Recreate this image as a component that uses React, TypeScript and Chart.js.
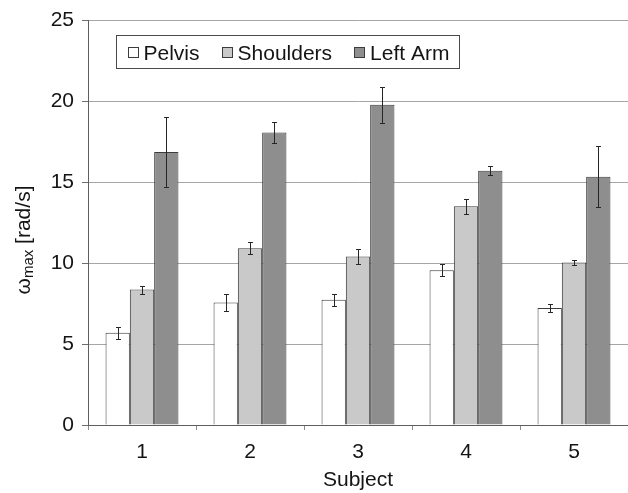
import React, { useEffect, useRef } from "react";
import { Chart, registerables } from "chart.js";

Chart.register(...registerables);

const subjects = ["1", "2", "3", "4", "5"];
const pelvis = [5.7, 7.57, 7.74, 9.57, 7.24];
const pelvisErr = [0.38, 0.5, 0.36, 0.37, 0.27];
const shoulders = [8.37, 10.93, 10.41, 13.52, 10.04];
const shouldersErr = [0.25, 0.37, 0.46, 0.45, 0.16];
const leftArm = [16.87, 18.09, 19.8, 15.72, 15.35];
const leftArmErr = [2.18, 0.67, 1.1, 0.28, 1.87];
const seriesNames = ["Pelvis", "Shoulders", "Left Arm"];
const yMin = 0;
const yMax = 25;
const yStep = 5;
const xTitle = "Subject";

const FONT = '"Liberation Sans", Arial, Helvetica, sans-serif';
const fills = ["#ffffff", "#c9c9c9", "#8e8e8e"];
const edge = "#3c3c3c";
const textColor = "#141414";
const errs = [pelvisErr, shouldersErr, leftArmErr];

const errorBarPlugin = {
  id: "errorBars",
  afterDatasetsDraw(chart: any) {
    const ctx = chart.ctx;
    const ys = chart.scales.y;
    ctx.save();
    ctx.strokeStyle = "#262626";
    ctx.lineWidth = 1;
    chart.data.datasets.forEach((ds: any, i: number) => {
      const meta = chart.getDatasetMeta(i);
      meta.data.forEach((el: any, j: number) => {
        const v = ds.data[j];
        const e = errs[i][j];
        const x = Math.round(el.x) + 0.5;
        const yt = Math.round(ys.getPixelForValue(v + e)) + 0.5;
        const yb = Math.round(ys.getPixelForValue(v - e)) + 0.5;
        ctx.beginPath();
        ctx.moveTo(x, yt);
        ctx.lineTo(x, yb);
        ctx.moveTo(x - 2.5, yt);
        ctx.lineTo(x + 2.5, yt);
        ctx.moveTo(x - 2.5, yb);
        ctx.lineTo(x + 2.5, yb);
        ctx.stroke();
      });
    });
    ctx.restore();
  },
};

const legendTitlePlugin = {
  id: "legendTitle",
  afterDraw(chart: any) {
    const ctx = chart.ctx;
    const ca = chart.chartArea;
    ctx.save();
    ctx.font = `21px ${FONT}`;
    const padL = 11, sq = 11, gapT = 5, gapI = 22, padR = 10;
    const widths = seriesNames.map((n) => ctx.measureText(n).width);
    let total = padL + padR;
    widths.forEach((w, i) => {
      total += sq + gapT + w + (i < widths.length - 1 ? gapI : 0);
    });
    const bx = Math.round(ca.left + 28) + 0.5;
    const by = Math.round(ca.top + 14) + 0.5;
    const bh = 33;
    ctx.fillStyle = "#ffffff";
    ctx.fillRect(bx, by, total, bh);
    ctx.strokeStyle = "#4a4a4a";
    ctx.lineWidth = 1;
    ctx.strokeRect(bx, by, Math.round(total), bh);
    let x = bx + padL;
    const cy = by + bh / 2;
    seriesNames.forEach((n, i) => {
      ctx.fillStyle = fills[i];
      ctx.fillRect(Math.round(x) + 0.5, Math.round(cy - 5.5) + 0.5, sq - 1, sq - 1);
      ctx.strokeStyle = edge;
      ctx.strokeRect(Math.round(x) + 0.5, Math.round(cy - 5.5) + 0.5, sq - 1, sq - 1);
      x += sq + gapT;
      ctx.fillStyle = textColor;
      ctx.textBaseline = "alphabetic";
      ctx.textAlign = "left";
      ctx.fillText(n, x, cy + 7.5);
      x += widths[i] + gapI;
    });

    const big = `21px ${FONT}`;
    const small = `15px ${FONT}`;
    ctx.font = big;
    const w1 = ctx.measureText("\u03c9").width;
    const w3 = ctx.measureText(" [rad/s]").width;
    ctx.font = small;
    const w2 = ctx.measureText("max").width;
    const W = w1 + w2 + w3;
    ctx.translate(30, 240);
    ctx.rotate(-Math.PI / 2);
    ctx.fillStyle = textColor;
    ctx.textAlign = "left";
    ctx.textBaseline = "alphabetic";
    let sx = -W / 2;
    ctx.font = big;
    ctx.fillText("\u03c9", sx, 0);
    sx += w1;
    ctx.font = small;
    ctx.fillText("max", sx, 3);
    sx += w2;
    ctx.font = big;
    ctx.fillText(" [rad/s]", sx, 0);
    ctx.restore();
  },
};

export default function App() {
  const ref = useRef<HTMLCanvasElement | null>(null);
  useEffect(() => {
    document.body.style.margin = "0";
    if (!ref.current) return;
    const chart = new Chart(ref.current, {
      type: "bar",
      data: {
        labels: subjects,
        datasets: [pelvis, shoulders, leftArm].map((d, i) => ({
          label: seriesNames[i],
          data: d,
          backgroundColor: fills[i],
          borderColor: edge,
          borderWidth: 1,
          categoryPercentage: 0.675,
          barPercentage: 1.0,
        })),
      },
      options: {
        responsive: false,
        animation: false,
        devicePixelRatio: 1,
        layout: { padding: { top: 20, left: 0, right: 0, bottom: 0 } },
        plugins: {
          legend: { display: false },
          tooltip: { enabled: false },
        },
        scales: {
          x: {
            grid: {
              offset: true,
              drawOnChartArea: false,
              drawTicks: true,
              tickLength: 5,
              tickColor: "#8a8a8a",
            },
            border: { color: "#5e5e5e", width: 1 },
            ticks: {
              color: textColor,
              font: { family: FONT, size: 21 },
              padding: 10,
            },
            title: {
              display: true,
              text: xTitle,
              color: textColor,
              font: { family: FONT, size: 21 },
              padding: { top: 0, bottom: 0 },
            },
            afterFit(scale: any) {
              scale.height = 68;
            },
          },
          y: {
            min: yMin,
            max: yMax,
            ticks: {
              stepSize: yStep,
              color: textColor,
              font: { family: FONT, size: 21 },
              padding: 8,
            },
            grid: {
              color: "#a6a6a6",
              tickLength: 6,
              tickColor: "#6e6e6e",
            },
            border: { color: "#5e5e5e", width: 1 },
            afterFit(scale: any) {
              scale.width = 88;
            },
          },
        },
      },
      plugins: [errorBarPlugin, legendTitlePlugin],
    });
    return () => chart.destroy();
  }, []);
  return (
    <div style={{ width: 628, height: 493 }}>
      <canvas ref={ref} width={628} height={493} />
    </div>
  );
}
